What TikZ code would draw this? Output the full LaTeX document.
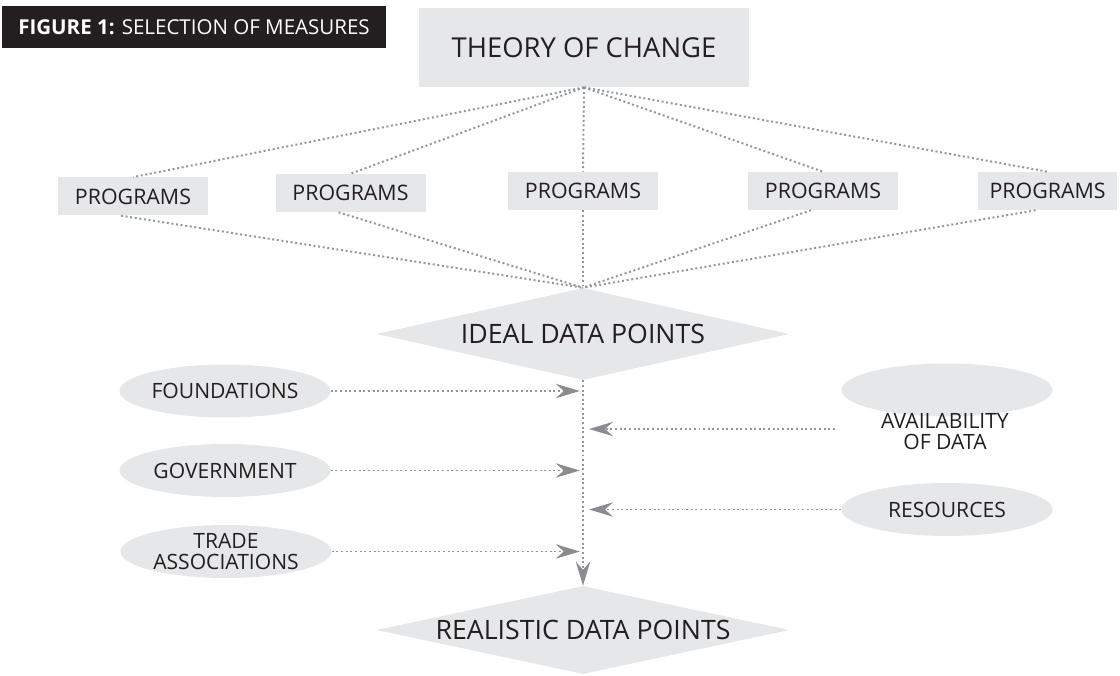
\documentclass[tikz,border=0pt]{standalone}
\usepackage{fontspec}
\setmainfont{Open Sans}
\usetikzlibrary{positioning,arrows.meta,calc,shapes.geometric}

\definecolor{boxgray}{HTML}{E6E7E8}
\definecolor{linegray}{HTML}{939598}
\definecolor{tipgray}{HTML}{8A8C8F}
\definecolor{ink}{HTML}{231F20}

\begin{document}
\begin{tikzpicture}[
    box/.style={rectangle,fill=boxgray,text=ink,inner sep=0pt},
    bubble/.style={ellipse,fill=boxgray,text=ink,minimum width=5.275cm,minimum height=1.325cm,inner sep=0pt,align=center,font=\fontsize{15}{14.5}\selectfont},
    point/.style={diamond,fill=boxgray,text=ink,minimum width=10.325cm,minimum height=2.3cm,inner sep=0pt,shape aspect=4.6,font=\fontsize{19}{22}\selectfont},
    link/.style={linegray,line width=1.4pt,dash pattern=on 1.4pt off 1.9pt},
    arrow/.style={link,-{Stealth[length=0.6cm,width=0.36cm,inset=0.2cm,fill=tipgray,color=tipgray]}}
]

\def \SPINEX {14.575}; % x of the vertical line

\useasboundingbox (0,0) rectangle (28,-16.9);

% Caption
\node[fill=ink,text=white,anchor=west,inner xsep=0.4cm,minimum height=1.05cm,font=\fontsize{14.6}{17}\selectfont] (caption) at (0.05,-0.675) {\textbf{FIGURE 1:} SELECTION OF MEASURES};

% Top
\node[box,minimum width=8.25cm,minimum height=1.975cm,font=\fontsize{19.5}{23}\selectfont] (theory) at (14.6,-1.19) {THEORY OF CHANGE};

% Programs row
\foreach \i/\x/\y/\w in {1/3.325/-4.91/3.75, 2/8.7625/-4.825/3.75, 3/14.575/-4.775/3.75, 4/20.575/-4.775/3.75, 5/26.19/-4.775/3.475} {
    \node[box,minimum width=\w cm,minimum height=0.95cm,font=\fontsize{15.2}{18}\selectfont] (prog\i) at (\x,\y) {PROGRAMS};
}

% Data points
\node[point] (ideal) at (\SPINEX,-8.35) {IDEAL DATA POINTS};
\node[point,minimum height=2.2cm] (real) at (\SPINEX,-15.75) {REALISTIC DATA POINTS};

% Connect theory to programs to ideal data points
\foreach \i in {1,2,4,5} {
    \draw[link] (theory.south) -- (prog\i.north);
    \draw[link] ([xshift=-0.3cm]prog\i.south) -- (ideal.north);
}
\draw[link] (theory.south) -- (prog3.north);
\draw[link] (prog3.south) -- (ideal.north);

% Influences on the left
\node[bubble] (found) at (5.625,-9.775) {FOUNDATIONS};
\node[bubble] (gov) at (5.625,-11.7625) {GOVERNMENT};
\node[bubble] (trade) at (5.65,-13.7875) {TRADE\\ASSOCIATIONS};

% Influences on the right
\node[bubble] (avail) at (23.675,-9.75) {};
\node[text=ink,align=center,inner sep=0pt,font=\fontsize{15}{15}\selectfont] (availtxt) at (23.625,-10.8) {AVAILABILITY\\OF DATA};
\node[bubble] (res) at (23.675,-12.7375) {RESOURCES};

% Points on the vertical line
\coordinate (spine1) at (\SPINEX,-9.775);
\coordinate (spine2) at (\SPINEX,-10.725);
\coordinate (spine3) at (\SPINEX,-11.7625);
\coordinate (spine4) at (\SPINEX,-12.7375);
\coordinate (spine5) at (\SPINEX,-13.7875);
\coordinate (availtail) at (20.875,-10.725);

% Vertical line
\draw[arrow] (ideal.south) -- (real.north);

% Arrows into the vertical line
\draw[arrow,shorten >=0.08cm] (found.east) -- (spine1);
\draw[arrow,shorten >=0.08cm] (gov.east) -- (spine3);
\draw[arrow,shorten >=0.08cm] (trade.east) -- (spine5);
\draw[arrow,shorten >=0.15cm] (availtail) -- (spine2);
\draw[arrow,shorten >=0.15cm] (res.west) -- (spine4);

\end{tikzpicture}
\end{document}
